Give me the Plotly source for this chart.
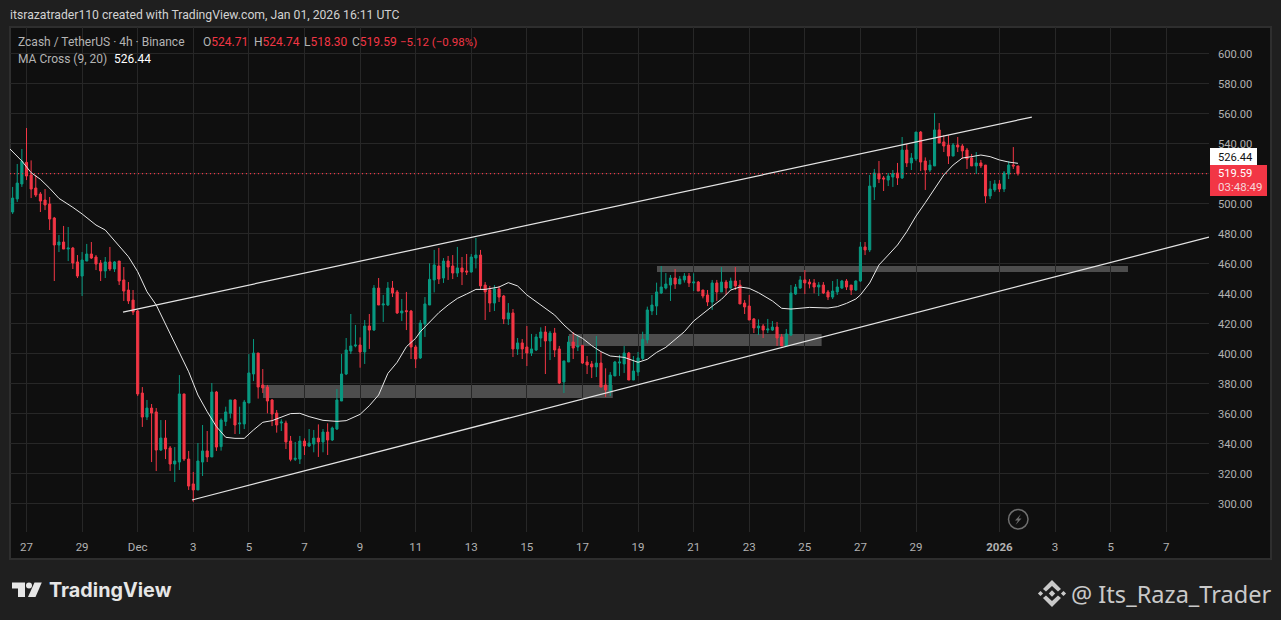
import pandas as pd
import plotly.graph_objects as go

# ---------- data ----------
dates = pd.date_range("2025-11-26 12:00", periods=218, freq="4h")
opens = [
494.0,502.7,512.7,527.1,518.7,510,506,502,499.3,490,
472,474,469.3,470,460.7,451.3,461.3,466,464,460,
454.7,460.7,456,461.3,448.7,442,435.3,428,373.3,357.3,
363.3,360.7,335.3,343.3,336.7,326,327.3,372.7,329.3,312.7,
308.7,327.3,334.7,330.7,374,337.6,354.4,359.8,368.7,352.7,
352.7,366.7,386,400,378.7,377.3,368.7,360,353.3,353.3,
341.3,329.1,329.3,341.3,338,339.3,343.3,340.7,347.3,342,
349.3,368,386,401.3,404.7,405.3,400.7,418,415.3,443.3,
432,432,443.3,440.7,426.7,428.2,428,404,396.7,419.3,
432,448.7,458,450,461.3,458,453.3,456.7,454.7,454,
463.3,465.3,445.3,442,433.3,442.7,438,422.7,426.7,402.7,
406.7,404,400,402,410,414,408,413.3,402.7,380.7,
394,407.3,404,405.1,394,392.7,390.7,393.3,378.7,374.7,
384.7,393.3,392.7,400,382,387.3,396.4,408.7,428,431.3,
440,443.3,445.3,450,446,448.7,451.3,446.7,447.3,442,
438.7,434,446.7,440.7,447.3,443.3,448,445.3,433.3,431.3,
422.7,416.7,418,415.3,415.3,417.3,410.7,404.7,412,439.3,
443.3,448.7,447.3,446.7,444,445.3,440.7,437.3,440.7,443.3,
448,445.3,442,448,470.7,468.7,510.7,519.6,516.7,515.3,
517.3,520,516.7,535.3,526.7,529.3,547.3,528,522,524.7,
548.7,540.7,538.7,531.3,538.7,538,535.3,530,524.7,526.7,
525.3,504.7,508.7,512.7,509.3,519.3,525.3,524.71]
closes = [
503.3,513.3,527.8,518,509.3,505.3,501.3,498.7,489.3,472,
474,469.3,470,460,451.3,462,466,463.3,459.3,454.7,
460.7,456,460.7,448,441.3,434.7,427.3,372.7,357.3,363.3,
360,335.3,343.3,336,326,328,372.7,329.3,311.3,308.7,
328,334.7,330.7,374,337.3,355.3,360.7,368.7,352,353.3,
367.3,386.7,400,377.3,376.7,368,359.3,352,354,340.7,
329.1,329.8,341.3,338,340,343.3,340.7,347.3,342,350,
368.7,386,402,404.7,405.3,400.7,418,415.3,443.3,432,
432.7,443.3,440,426.7,428,427.6,404,396,420,432.7,
449.1,458.7,449.3,461.3,457.3,453.3,456.7,454,454,464,
465.3,444.7,440.7,433.3,442.7,437.3,422.7,426.7,402.7,406.7,
402.7,400,402.7,410.7,414,408,413.3,402,380,394.7,
407.3,403.3,404.7,393.3,392,390.7,393.3,377.3,375.3,385.3,
394,394,400,382,388,396.7,409.1,428.7,432,440.7,
444,446,450,446,449.3,451.3,446.7,447.3,441.3,438,
434,446.7,440.7,447.3,443.3,448,444.7,432.7,430.7,422,
416.7,418,415.3,416,417.3,410,404.7,412.7,440,444,
448.7,446.7,446,444,445.3,440,437.3,441.3,444,448,
444,442,448,470.7,468.7,511.3,520,516,516,518,
519.6,516.7,535.3,526.7,530,547.3,527.3,522,525.3,548.7,
540,538,531.3,538.7,537.3,534.7,529.3,524.7,526.7,524.7,
504.7,509.3,512.7,509.3,520,525.3,524.7,519.59]
highs = [
510.7,526,536,550,528.4,518.7,507.3,509.3,504,490.7,
478.7,484.7,484,470.7,465.3,467.3,472.7,474,465.3,462,
464,470.7,461.3,461.3,457.3,447.3,442,428.7,377.3,368.7,
366,363.3,355.3,355.3,338,337.3,385.3,372.7,334.7,320.7,
340,352,348,380,374.7,356.4,364.2,368.7,369.3,364.2,
368.7,399.3,409.3,400,389.3,378.7,369.3,362,355.8,354.9,
344.7,340.7,344.7,343.1,349.3,348.7,352.4,349.3,353.1,350.9,
376,399.3,410,426,418.7,410.4,422,426,445.3,450,
438.7,447.3,448,442,436,440.7,428.7,405.3,422,437.3,
459.8,468.7,470,463.3,464.7,465.3,470.7,464,466,466,
476.7,468.7,447.3,444.7,445.3,444.7,438.7,433.3,429.3,410,
409.3,418,412.7,412.7,417.1,418,414.7,416.7,404.7,394.7,
411.3,414,411.3,405.3,398,394.7,411.3,400.7,389.8,387.3,
394.7,398.7,404.7,400.7,398,400.7,414.2,430.9,438.7,446.9,
458,453.3,452,456,451.3,453.3,453.3,453.1,448,442,
442,448.7,448.7,457.3,448.7,450.2,457.3,448.7,435.3,438.7,
423.3,422.4,419.3,422.7,421.3,420.7,412.7,416,445.3,446,
451.3,455.3,449.3,449.3,447.3,447.3,442,448,449.3,448.7,
449.3,445.3,448.4,474,474,518.7,522.7,528,518,520,
522,526.7,544,539.3,533.3,547.3,548,530.4,528.7,560,
553.3,545.3,545.3,540,544,539.3,536.7,532.7,534,528.7,
525.3,514.7,515.3,515.3,521.3,528,537.3,524.74]
lows = [
492.7,500.7,510.7,515.3,503.3,504,494,495.3,482,448,
467.3,469.3,461.3,456,450,438,461.3,462.7,455.3,448,
450,454.7,454,445.3,434.7,432.7,425.3,371.3,350.7,355.3,
327.3,321.3,334.7,329.3,321.3,314,322,328,308.7,300.7,
308.7,318,327.3,330.7,334.7,334.9,351.3,356.4,346,346,
349.3,366.7,381.3,369.6,373.3,359.8,351.3,346.9,348,336,
327.8,328,326,332,337.3,333.8,330.7,333.8,332,341.3,
348.7,368,385.3,399.3,403.8,390.2,392.7,402.7,414.7,432,
420.7,431.3,437.3,426,421.3,415.3,396,390,396,410.7,
432,440.4,446,446.7,448.7,449.3,450.7,445.3,452,453.6,
456.4,442.7,422,427.3,428,434,419.3,418.7,397.3,398.7,
396,391.3,398,401.3,404,386,395.3,397.3,379.3,373.3,
394,396,401.3,392.7,386,383.3,384,377.3,370.7,371.3,
384.7,384.7,386.7,382,382,384.7,395.3,406.4,425.3,425.3,
439.3,442.4,434.7,442.7,446,446.9,444,441.3,441.3,436.4,
431.3,428.7,434.7,440.7,438.7,442.4,442,432.7,426,422,
413.3,412,410,413.3,414.7,404.7,404.7,404.7,411.3,438.7,
442.7,439.3,443.1,439.8,438,439.3,435.3,436,438.7,442.7,
442,438.7,441.5,447.3,465.3,467.3,502,513.3,508,511.3,
510.7,512,516,524,522,528,521.3,508.7,520.7,524.7,
540,534,526,531.3,534,529.3,522.7,524.7,519.3,523.3,
500,502.7,507.3,507.3,507.3,516,522.7,518.30]
assert len(opens) == len(closes) == len(highs) == len(lows) == len(dates)

ma_index = [0,2,4,6,8,10,13,15,18,20,23,25,27,29,31,33,35,36,38,40,42,44,46,48,50,52,54,56,58,60,62,64,67,70,72,
            75,77,79,81,83,85,87,88,90,92,94,96,98,100,102,105,107,109,111,113,115,117,119,121,123,125,127,129,132,135,
            137,139,141,143,145,147,149,151,153,155,157,159,161,164,166,168,172,176,178,180,182,183,185,187,189,191,193,
            195,197,199,201,203,205,207,209,211,213,215,217]
ma_values = [534.2,528.0,520.2,515.8,509.8,503.1,497.1,492.7,485.3,482.0,471.3,464.2,454.2,440.9,432.0,419.3,407.5,400.9,387.5,372.0,360.9,350.9,343.8,343.1,343.1,348.7,353.8,354.9,357.1,359.6,359.8,357.6,355.1,354.4,354.9,
             359.1,364.9,372.0,386.4,393.8,404.2,409.8,414.2,420.4,426.9,432.0,436.4,439.3,442.4,442.4,444.0,446.9,444.7,438.7,434.2,430.2,425.3,418.7,413.1,409.8,404.9,400.9,398.0,397.1,393.8,
             395.8,400.4,403.8,408.7,414.2,421.3,426.4,431.1,435.8,442.0,444.0,443.1,440.2,434.7,429.8,429.3,430.4,430.0,430.9,433.1,436.0,438.7,446.7,458.7,465.3,472.0,480.9,
             491.3,500.2,509.8,518.7,525.3,530.0,530.9,532.0,530.9,528.7,527.3,526.44]
ma_left_date = "2025-11-26 09:45"   # where the line enters the pane
ma_left_value = 536.0

upper_dates = ["2025-11-30 11:20", "2026-01-02 04:00"]
upper_prices = [427.3, 557.3]
lower_dates = ["2025-12-02 22:50", "2026-01-08 12:57"]
lower_prices = [302.0, 477.3]
zone_starts = ["2025-12-05 12:10", "2025-12-16 12:15", "2025-12-19 16:20"]
zone_ends = ["2025-12-18 02:10", "2025-12-25 14:30", "2026-01-05 15:00"]
zone_tops = [378.7, 412.7, 458.0]
zone_bottoms = [370.0, 404.7, 454.0]
last_price = 519.59
price_ticks = list(range(300, 620, 20))
price_labels = [f"{v:.2f}" for v in price_ticks]
time_ticks = ["2025-11-27","2025-11-29","2025-12-01","2025-12-03","2025-12-05","2025-12-07","2025-12-09","2025-12-11",
              "2025-12-13","2025-12-15","2025-12-17","2025-12-19","2025-12-21","2025-12-23","2025-12-25","2025-12-27",
              "2025-12-29","2026-01-01","2026-01-03","2026-01-05","2026-01-07"]
time_labels = ["27","29","Dec","3","5","7","9","11","13","15","17","19","21","23","25","27","29","<b>2026</b>","3","5","7"]

# ---------- page geometry helpers (pixels -> paper) ----------
L, R, T, B = 10, 1209, 27, 532
W, H = 1281, 620
def fx(p): return (p - L) / (R - L)
def fy(p): return (B - p) / (B - T)
def path(points):
    return "M" + " L".join(f"{fx(a):.5f},{fy(b):.5f}" for a, b in points) + " Z"

UP, DOWN = "#089981", "#F23645"
BG, PANE, GRID = "#1f1f1f", "#0f0f0f", "#272727"
FONT = "Roboto"

fig = go.Figure()
fig.add_trace(go.Candlestick(
    x=dates, open=opens, high=highs, low=lows, close=closes,
    increasing=dict(line=dict(color=UP, width=1), fillcolor=UP),
    decreasing=dict(line=dict(color=DOWN, width=1), fillcolor=DOWN),
    whiskerwidth=0, hoverinfo="skip", showlegend=False))
fig.add_trace(go.Scatter(x=["2025-11-26 09:45", "2026-01-08 12:57"], y=[last_price, last_price], mode="lines",
                         line=dict(color=DOWN, width=1.3, dash="1px 3px"), hoverinfo="skip"))
fig.add_trace(go.Scatter(x=[ma_left_date] + [dates[i] for i in ma_index], y=[ma_left_value] + ma_values, mode="lines",
                         line=dict(color="#e8e8e8", width=1), hoverinfo="skip"))
fig.add_trace(go.Scatter(x=upper_dates, y=upper_prices, mode="lines",
                         line=dict(color="#e4e4e4", width=1.25), hoverinfo="skip"))
fig.add_trace(go.Scatter(x=lower_dates, y=lower_prices, mode="lines",
                         line=dict(color="#e4e4e4", width=1.25), hoverinfo="skip"))

shapes = [
    dict(type="rect", xref="paper", yref="paper", x0=fx(10), x1=fx(1271), y0=fy(27), y1=fy(559),
         fillcolor=PANE, line=dict(color="#2e2e2e", width=2), layer="below"),
]
for s, e, t, b in zip(zone_starts, zone_ends, zone_tops, zone_bottoms):
    shapes.append(dict(type="rect", xref="x", yref="y", x0=s, x1=e, y0=b, y1=t,
                       fillcolor="#4d4d4d", line=dict(width=0), layer="below"))
# price tags
shapes += [
    dict(type="rect", xref="paper", yref="paper", x0=fx(1210), x1=fx(1257), y0=fy(148), y1=fy(165),
         fillcolor="#ffffff", line=dict(width=0), layer="above"),
    dict(type="rect", xref="paper", yref="paper", x0=fx(1210), x1=fx(1267), y0=fy(165), y1=fy(196),
         fillcolor=DOWN, line=dict(width=0), layer="above"),
]
# bolt icon
shapes += [
    dict(type="circle", xref="paper", yref="paper", x0=fx(1008.5), x1=fx(1028), y0=fy(509.5), y1=fy(529),
         line=dict(color="#6f6f6f", width=1.5), layer="above"),
    dict(type="path", xref="paper", yref="paper",
         path=path([(1021,514),(1015,520.5),(1018,520.5),(1015.5,525),(1021.5,518.5),(1018.5,518.5)]),
         fillcolor="#6f6f6f", line=dict(width=0), layer="above"),
]
# TradingView mark
LOGO = "#e6e6e6"
shapes += [
    dict(type="path", xref="paper", yref="paper",
         path=path([(12,582.5),(25,582.5),(25,597),(18,597),(18,588.5),(12,588.5)]),
         fillcolor=LOGO, line=dict(width=0)),
    dict(type="circle", xref="paper", yref="paper", x0=fx(26), x1=fx(32), y0=fy(582.5), y1=fy(588.5),
         fillcolor=LOGO, line=dict(width=0)),
    dict(type="path", xref="paper", yref="paper",
         path=path([(34.5,582.5),(41.8,582.5),(35.5,597),(28,597)]), fillcolor=LOGO, line=dict(width=0)),
]
# Binance mark
BN = "#c9c9c9"; cx, cy = 1052, 593.5
def diamond(x, y, r): return path([(x, y-r), (x+r, y), (x, y+r), (x-r, y)])
for d in (diamond(cx, cy, 3.2), diamond(cx-11.5, cy, 2.6), diamond(cx+11.5, cy, 2.6)):
    shapes.append(dict(type="path", xref="paper", yref="paper", path=d, fillcolor=BN, line=dict(width=0)))
for sgn in (-1, 1):
    shapes.append(dict(type="path", xref="paper", yref="paper",
                       path=path([(cx, cy+sgn*13.5),(cx+9, cy+sgn*4.5),(cx+6, cy+sgn*2),(cx, cy+sgn*7.5),(cx-6, cy+sgn*2),(cx-9, cy+sgn*4.5)]),
                       fillcolor=BN, line=dict(width=0)))

def label(x, y, text, color="#b2b2b2", size=12, anchor="left", family=FONT):
    return dict(xref="paper", yref="paper", x=fx(x), y=fy(y), text=text, showarrow=False,
                xanchor=anchor, yanchor="middle", xshift=-2, align="left",
                font=dict(family=family, size=size, color=color))

GREY = "#b4b4b4"
annotations = [
    label(10, 15, "itsrazatrader110 created with TradingView.com, Jan 01, 2026 16:11 UTC", "#d2d2d2", 12.2),
    label(18, 42, "Zcash / TetherUS · 4h · Binance", GREY, 12),
    label(203, 42, f"O<span style='color:{DOWN}'>524.71</span>", GREY, 12),
    label(254, 42, f"H<span style='color:{DOWN}'>524.74</span>", GREY, 12),
    label(304, 42, f"L<span style='color:{DOWN}'>518.30</span>", GREY, 12),
    label(352, 42, f"C<span style='color:{DOWN}'>519.59</span>", GREY, 12),
    label(400, 42, "−5.12 (−0.98%)", DOWN, 11.5),
    label(18, 59, "MA Cross (9, 20)", GREY, 12),
    label(114, 59, "526.44", "#ffffff", 12),
    label(1218, 157, "526.44", "#111111", 11.2),
    label(1218, 173, "519.59", "#ffffff", 11.2),
    label(1218, 187, "03:48:49", "#f6d5d8", 11.5),
    label(49, 590, "<b>TradingView</b>", "#e6e6e6", 19.8, family="Inter"),
    label(1071, 594, "@ Its_Raza_Trader", "#c9c9c9", 23.6, family="Noto Sans"),
]

fig.update_layout(
    width=W, height=H, autosize=False, showlegend=False,
    margin=dict(l=L, r=W - R, t=T, b=H - B, pad=0),
    paper_bgcolor=BG, plot_bgcolor=PANE,
    font=dict(family=FONT, size=12, color="#b2b2b2"),
    boxgap=0.35, shapes=shapes, annotations=annotations,
    xaxis=dict(type="date", range=["2025-11-26 09:45", "2026-01-08 12:57"], rangeslider=dict(visible=False),
               tickmode="array", tickvals=time_ticks, ticktext=time_labels, showgrid=True, gridcolor=GRID, gridwidth=1,
               zeroline=False, showline=False, ticks="", ticklabelstandoff=6,
               tickfont=dict(family=FONT, size=11.5, color="#b2b2b2"), tickangle=0),
    yaxis=dict(side="right", range=[280.67, 617.33], tickmode="array", tickvals=price_ticks, ticktext=price_labels,
               showgrid=True, gridcolor=GRID, gridwidth=1, zeroline=False, showline=False, ticks="", ticklabelstandoff=8,
               ticklabelshift=1, tickfont=dict(family=FONT, size=11.2, color="#b2b2b2")),
)

fig.write_html("out.html", config=dict(displayModeBar=False),
               post_script="document.body.style.margin='0';document.documentElement.style.overflow='hidden';")
